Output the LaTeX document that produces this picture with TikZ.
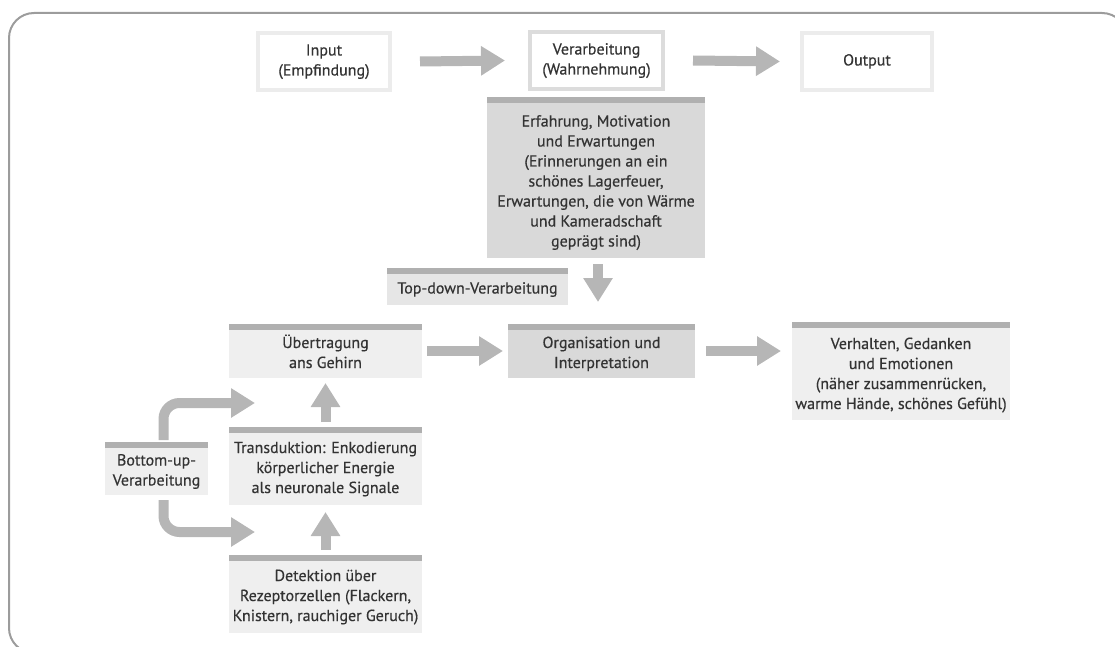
\documentclass[tikz,border=0pt]{standalone}
\usepackage{fontspec}
\setmainfont{PT Sans}[BoldFont={PT Sans}, BoldFeatures={FakeBold=0.45}]
\usetikzlibrary{arrows.meta,calc}
\definecolor{txt}{HTML}{333333}
\definecolor{bordergray}{HTML}{9C9C9C}
\definecolor{arrowgray}{HTML}{B6B6B6}
\definecolor{lightfill}{HTML}{EFEFEF}
\definecolor{midfill}{HTML}{E6E6E6}
\definecolor{darkfill}{HTML}{D9D9D9}
\definecolor{barcol}{HTML}{B0B0B0}
\definecolor{frameA}{HTML}{ECECEC}
\definecolor{frameB}{HTML}{DCDCDC}
\newcommand\tx[2][4pt]{\raisebox{-#1}[\height][\depth]{\begin{tabular}{@{}c@{}}#2\end{tabular}}}
\begin{document}
\begin{tikzpicture}[x=1pt,y=-1pt,
  font=\fontsize{16}{20}\selectfont\bfseries, text=txt,
  box/.style={anchor=north west, inner sep=0pt, outer sep=0pt},
  lightbox/.style={box, fill=lightfill},
  midbox/.style={box, fill=midfill},
  darkbox/.style={box, fill=darkfill},
  framebox/.style={box, fill=white, draw=#1, line width=4.5pt},
  bigarrow/.style={draw=arrowgray, line width=10pt, -{Triangle[width=28pt,length=24pt]}},
  topbar/.style={fill=barcol}
]
\useasboundingbox (0,0) rectangle (1115,647);
\draw[rounded corners=25pt, line width=2pt, draw=bordergray] (9,13) rectangle (1127,653);

% top row
\node[framebox=frameA, minimum width=132pt, minimum height=57pt] (input) at (258,33) {\tx[0pt]{Input\\(Empfindung)}};
\node[framebox=frameB, minimum width=133pt, minimum height=57pt] (verarb) at (530,32) {\tx[0pt]{Verarbeitung\\(Wahrnehmung)}};
\node[framebox=frameA, minimum width=130pt, minimum height=57pt] (output) at (802,33) {\tx[0pt]{Output}};

% experience box
\node[darkbox, minimum width=218pt, minimum height=161pt] (erf) at (487,97) {\tx[5pt]{Erfahrung, Motivation\\und Erwartungen\\(Erinnerungen an ein\\schönes Lagerfeuer,\\Erwartungen, die von Wärme\\und Kameradschaft\\geprägt sind)}};
\node[midbox, minimum width=181pt, minimum height=37pt] (topdown) at (387,268) {\tx[3pt]{Top-down-Verarbeitung}};

% middle row
\node[lightbox, minimum width=193pt, minimum height=54pt] (ueber) at (229,324) {\tx[3pt]{Übertragung\\ans Gehirn}};
\node[darkbox, minimum width=187pt, minimum height=54pt] (organ) at (508,324) {\tx[3pt]{Organisation und\\Interpretation}};
\node[lightbox, minimum width=218pt, minimum height=98pt] (verh) at (792,322) {\tx[4pt]{Verhalten, Gedanken\\und Emotionen\\(näher zusammenrücken,\\warme Hände, schönes Gefühl)}};

% lower left
\node[lightbox, minimum width=193pt, minimum height=78pt] (trans) at (229,427) {\tx[3pt]{Transduktion: Enkodierung\\körperlicher Energie\\als neuronale Signale}};
\node[lightbox, minimum width=193pt, minimum height=78pt] (detek) at (229,555) {\tx[3pt]{Detektion über\\Rezeptorzellen (Flackern,\\Knistern, rauchiger Geruch)}};
\node[lightbox, minimum width=103pt, minimum height=53pt] (bu) at (105,442) {\tx[3pt]{Bottom-up-\\Verarbeitung}};

% top bars
\foreach \n in {erf,topdown,ueber,organ,verh,trans,detek,bu}{
  \fill[topbar] (\n.north west) rectangle ([yshift=-6pt]\n.north east);
}

% arrows
\draw[bigarrow] ([xshift=30pt]input.east) -- ([xshift=-25pt]verarb.west);
\draw[bigarrow] ([xshift=30pt]verarb.east) -- ([xshift=-22pt]output.west);
\draw[bigarrow] ([xshift=2pt,yshift=-6pt]erf.south) -- ($(erf.south |- organ.north)+(2,-22)$);
\draw[bigarrow] ([xshift=5pt]ueber.east) -- ([xshift=-5pt]organ.west);
\draw[bigarrow] ([xshift=11pt]organ.east) -- ($(organ.east -| verh.west)+(-11,0)$);
\draw[bigarrow] ([yshift=5pt]trans.north) -- ([yshift=-5pt]ueber.south);
\draw[bigarrow] ([yshift=5pt]detek.north) -- ([yshift=-7pt]trans.south);

\coordinate (tipA) at (255,403);
\coordinate (tipB) at (255,532);
\draw[bigarrow, rounded corners=16pt] ([xshift=7pt,yshift=2pt]bu.north) |- (tipA);
\draw[bigarrow, rounded corners=16pt] ([xshift=7pt,yshift=-5pt]bu.south) |- (tipB);
\end{tikzpicture}
\end{document}
